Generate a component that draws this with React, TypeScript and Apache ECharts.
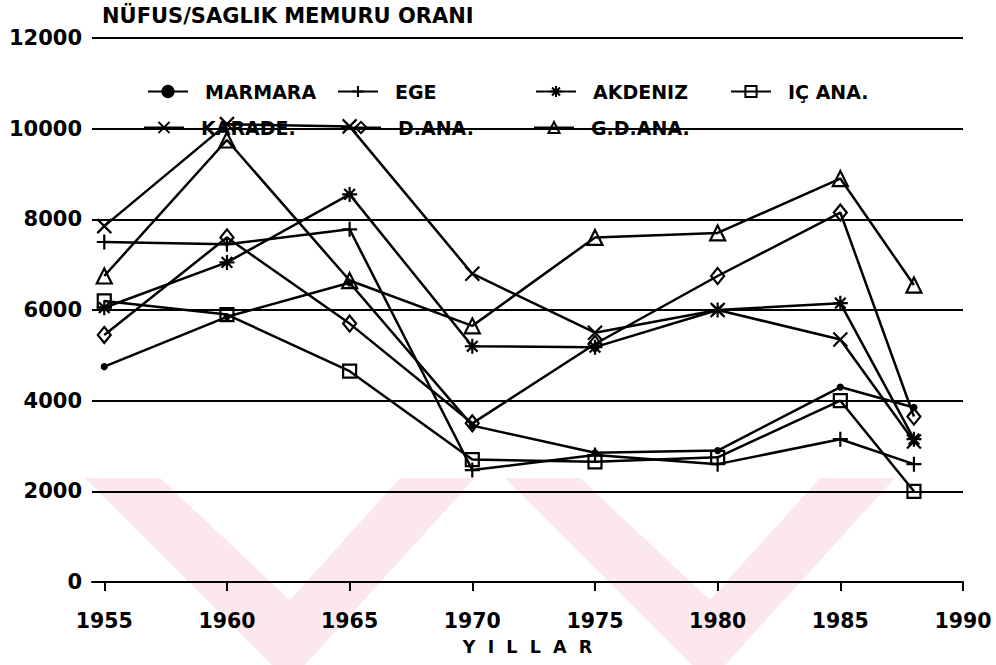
import React, { useEffect, useRef } from "react";
import * as echarts from "echarts";

const years = [1955, 1960, 1965, 1970, 1975, 1980, 1985, 1988];
const xTickValues = [1955, 1960, 1965, 1970, 1975, 1980, 1985, 1990];

const marmara = [4750, 5850, 6600, 3450, 2850, 2900, 4300, 3850];
const ege = [7500, 7450, 7780, 2470, 2800, 2600, 3150, 2600];
const akdeniz = [6050, 7050, 8550, 5200, 5180, 6000, 6150, 3150];
const icAna = [6200, 5900, 4650, 2700, 2650, 2750, 4000, 2000];
const karade = [7850, 10100, 10050, 6800, 5500, 6000, 5350, 3100];
const dAna = [5450, 7600, 5700, 3500, 5250, 6750, 8150, 3650];
const gdAna = [6750, 9750, 6650, 5650, 7600, 7700, 8900, 6550];

const seriesNames = ["MARMARA", "EGE", "AKDENIZ", "IÇ ANA.", "KARADE.", "D.ANA.", "G.D.ANA."];
const seriesValues = [marmara, ege, akdeniz, icAna, karade, dAna, gdAna];

const titleText = "NÜFUS/SAGLIK MEMURU ORANI";
const xName = "Y  I  L  L  A  R";

const FONT = "DejaVu Sans";

const symbols = [
  "circle",
  "path://M7 0L7 14M0 7L14 7",
  "path://M7 0L7 14M0 7L14 7M2 2L12 12M12 2L2 12",
  "rect",
  "path://M0 0L14 14M14 0L0 14",
  "diamond",
  "triangle",
];
const symbolSizes = [5, 15, 15, 13, 14, [13, 16], 15];
const fills = ["#000", "rgba(0,0,0,0)", "rgba(0,0,0,0)", "rgba(0,0,0,0)", "rgba(0,0,0,0)", "rgba(0,0,0,0)", "rgba(0,0,0,0)"];

// legend placement: [left, top]
const legendPos = [
  [147, 82],
  [337, 82],
  [535, 82],
  [730, 82],
  [143, 118],
  [340, 118],
  [533, 118],
];

export default function App() {
  const ref = useRef<HTMLDivElement>(null);
  useEffect(() => {
    if (!ref.current) return;
    const chart = echarts.init(ref.current, undefined, { renderer: "svg" });
    const textBase = { fontFamily: FONT, fontWeight: "bold" as const, color: "#000" };

    const series = seriesNames.map((name, i) => ({
      name,
      type: "line" as const,
      data: years.map((y, j) => [y, seriesValues[i][j]]),
      symbol: symbols[i],
      symbolSize: symbolSizes[i],
      showSymbol: true,
      lineStyle: { color: "#000", width: 2.5 },
      itemStyle: { color: fills[i], borderColor: "#000", borderWidth: 2.2 },
      emphasis: { disabled: true },
      silent: true,
    }));

    const legends = seriesNames.map((name, i) => ({
      data: [name],
      left: legendPos[i][0],
      top: legendPos[i][1],
      itemWidth: 40,
      itemHeight: 14,
      selectedMode: false,
      padding: 0,
      textStyle: { ...textBase, fontSize: 19, padding: [0, 0, 0, 12] },
    }));

    const pink = "#fce8ec";
    const wm = (dx: number) => ({
      type: "polygon",
      z: -10,
      silent: true,
      shape: {
        points: [
          [85 + dx, 478],
          [160 + dx, 478],
          [290 + dx, 600],
          [400 + dx, 478],
          [475 + dx, 478],
          [305 + dx, 665],
          [272 + dx, 665],
        ],
      },
      style: { fill: pink },
    });

    chart.setOption({
      animation: false,
      backgroundColor: "#fff",
      title: {
        text: titleText,
        left: 102,
        top: 5,
        padding: 0,
        textStyle: { ...textBase, fontSize: 21 },
      },
      legend: legends,
      graphic: [wm(0), wm(420)],
      grid: { left: 92, right: 33, top: 38, bottom: 83, containLabel: false },
      xAxis: {
        type: "value",
        min: 1954.5,
        max: 1990,
        name: xName,
        nameLocation: "middle",
        nameGap: 56,
        nameTextStyle: { ...textBase, fontSize: 17.5 },
        axisLine: { show: true, lineStyle: { color: "#000", width: 2 } },
        axisTick: { show: true, customValues: xTickValues, length: 9, inside: false, lineStyle: { color: "#000", width: 2 } },
        axisLabel: { customValues: xTickValues, margin: 28, fontSize: 20.5, ...textBase, formatter: (v: number) => String(v) },
        splitLine: { show: false },
      },
      yAxis: {
        type: "value",
        min: 0,
        max: 12000,
        interval: 2000,
        axisLine: { show: false },
        axisTick: { show: false },
        axisLabel: { margin: 10, fontSize: 21, ...textBase, formatter: (v: number) => String(v) },
        splitLine: { show: true, lineStyle: { color: "#000", width: 2 } },
      },
      series,
    });
    return () => chart.dispose();
  }, []);
  return (
    <div
      ref={ref}
      style={{ position: "absolute", left: 0, top: 0, width: 996, height: 665 }}
    />
  );
}
